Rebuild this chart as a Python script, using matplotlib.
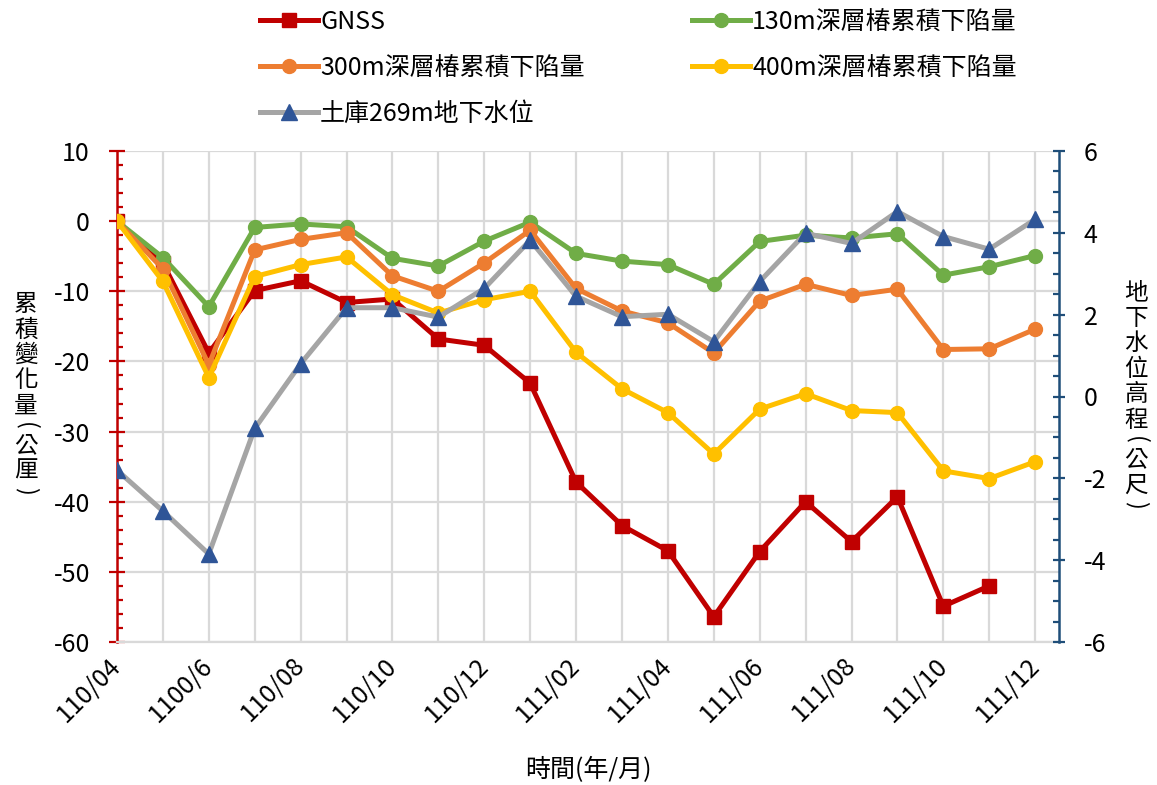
import numpy as np
import matplotlib
matplotlib.use('Agg')
import matplotlib.pyplot as plt
from matplotlib.ticker import MultipleLocator, FixedLocator

plt.rcParams['font.family'] = ['Noto Sans CJK TC', 'DejaVu Sans']
plt.rcParams['axes.unicode_minus'] = False

# ---- data ----
x_labels = ['110/04', '1100/6', '110/08', '110/10', '110/12', '111/02',
            '111/04', '111/06', '111/08', '111/10', '111/12']
n_months = 21

gnss = [0, -6.0, -18.8, -9.9, -8.5, -11.6, -11.1, -16.8, -17.7, -23.1, -37.2,
        -43.4, -47.0, -56.4, -47.1, -40.0, -45.7, -39.3, -54.9, -52.0, np.nan]
s130 = [0, -5.2, -12.2, -0.9, -0.4, -0.8, -5.3, -6.4, -2.85, -0.15, -4.6,
        -5.7, -6.2, -9.0, -2.9, -2.0, -2.4, -1.8, -7.7, -6.5, -4.9]
s300 = [0, -6.8, -20.5, -4.1, -2.6, -1.65, -7.8, -10.0, -5.95, -1.3, -9.6,
        -12.8, -14.5, -18.8, -11.4, -9.0, -10.6, -9.7, -18.3, -18.2, -15.4]
s400 = [0, -8.6, -22.3, -7.9, -6.2, -5.1, -10.5, -13.1, -11.2, -10.0, -18.7,
        -23.9, -27.3, -33.2, -26.8, -24.6, -27.0, -27.3, -35.6, -36.7, -34.3]
gw = [-1.8, -2.8, -3.85, -0.78, 0.8, 2.17, 2.17, 1.94, 2.64, 3.82, 2.45,
      1.95, 2.01, 1.34, 2.81, 3.99, 3.74, 4.52, 3.91, 3.60, 4.33]

labels = ['GNSS', '130m深層椿累積下陷量', '300m深層椿累積下陷量',
          '400m深層椿累積下陷量', '土庫269m地下水位']
left_title = '累積變化量(公厘)'
right_title = '地下水位高程(公尺)'
x_title = '時間(年/月)'

# ---- styles ----
c_red = '#C00000'
c_green = '#70AD47'
c_orange = '#ED7D31'
c_yellow = '#FFC000'
c_gray = '#A5A5A5'
c_blue = '#2F5597'
c_axis_r = '#1F4E79'
grid_c = '#D9D9D9'

W, H = 1157, 785
fig = plt.figure(figsize=(W / 100, H / 100), dpi=100)
L, R, T, B = 117, 1059, 151, 642
ax = fig.add_axes([L / W, 1 - B / H, (R - L) / W, (B - T) / H])
ax2 = ax.twinx()

x = np.arange(n_months)
lw = 3.6
h1, = ax.plot(x, gnss, color=c_red, lw=lw, marker='s', ms=9.5, zorder=3)
h2, = ax.plot(x, s130, color=c_green, lw=lw, marker='o', ms=10, zorder=3)
h3, = ax.plot(x, s300, color=c_orange, lw=lw, marker='o', ms=10, zorder=3)
h4, = ax.plot(x, s400, color=c_yellow, lw=lw, marker='o', ms=10, zorder=3)
h5, = ax2.plot(x, gw, color=c_gray, lw=lw, marker='^', ms=11.5,
               markerfacecolor=c_blue, markeredgecolor=c_blue, zorder=3)

ax.set_xlim(0, 20.52)
ax.set_ylim(-60, 10)
ax2.set_ylim(-6, 6)

# grid
ax.xaxis.set_major_locator(FixedLocator(np.arange(0, n_months, 2)))
ax.xaxis.set_minor_locator(FixedLocator(np.arange(0, n_months, 1)))
ax.set_xticklabels(x_labels)
ax.grid(True, which='minor', axis='x', color=grid_c, lw=1.6)
ax.grid(True, which='major', axis='x', color=grid_c, lw=1.6)
ax.yaxis.set_major_locator(MultipleLocator(10))
ax.yaxis.set_minor_locator(MultipleLocator(2))
ax.grid(True, which='major', axis='y', color=grid_c, lw=1.6)
ax.set_axisbelow(True)

ax.spines['top'].set_visible(False)
ax2.spines['top'].set_visible(False)
ax.spines['bottom'].set_color(grid_c)
ax.spines['bottom'].set_linewidth(1.6)
ax2.spines['bottom'].set_visible(False)
ax.spines['right'].set_visible(False)
ax2.spines['left'].set_visible(False)
ax.spines['left'].set_color(c_red)
ax.spines['left'].set_linewidth(1.8)
ax2.spines['right'].set_color(c_axis_r)
ax2.spines['right'].set_linewidth(1.8)

fs = 18
ax.tick_params(axis='x', which='both', length=0, labelsize=fs, pad=14)
for t in ax.get_xticklabels():
    t.set_rotation(45)
    t.set_ha('right')
    t.set_va('center')
    t.set_rotation_mode('anchor')

ax.tick_params(axis='y', which='major', direction='inout', length=11, width=1.6,
               color=c_red, labelsize=fs, pad=14)
ax.tick_params(axis='y', which='minor', direction='in', length=4.5, width=1.6,
               color=c_red)
ax2.yaxis.set_major_locator(MultipleLocator(2))
ax2.yaxis.set_minor_locator(MultipleLocator(0.5))
ax2.tick_params(axis='y', which='major', direction='inout', length=8, width=1.6,
                color=c_axis_r, labelsize=fs, pad=14)
ax2.tick_params(axis='y', which='minor', direction='in', length=4, width=1.6,
                color=c_axis_r)


def stacked(text, xc, yc, size=17, pitch=25.5):
    units = [0.55 if ch in '()' else 1.0 for ch in text]
    total = sum(units) * pitch
    y = yc - total / 2
    for ch, u in zip(text, units):
        cy = y + u * pitch / 2
        rot = -90 if ch in '()' else 0
        fig.text(xc / W, 1 - cy / H, ch, fontsize=size, ha='center',
                 va='center', rotation=rot)
        y += u * pitch


stacked(left_title, 26, 395)
stacked(right_title, 1136, 396)
fig.text(588 / W, 1 - 770 / H, x_title, fontsize=18, ha='center', va='center')

handles = [h1, h3, h5, h2, h4]
leg_labels = [labels[0], labels[2], labels[4], labels[1], labels[3]]
fig.legend(handles, leg_labels, loc='upper left', ncol=2,
           bbox_to_anchor=(250 / W, 1 + 1 / H), frameon=False, fontsize=18,
           handlelength=2.3, handletextpad=0.1, columnspacing=4.3,
           labelspacing=0.8, numpoints=1, borderaxespad=0.0)

fig.savefig('out.png', dpi=100)
